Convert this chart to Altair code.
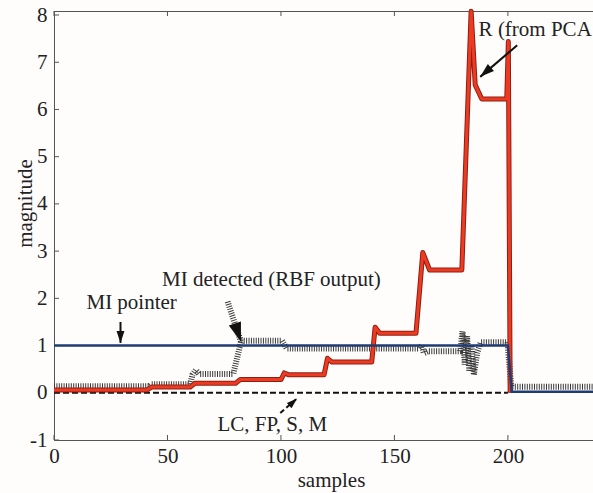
import altair as alt
import pandas as pd

# ---------------- data ----------------
r_x = [0, 41, 43, 60, 62, 80, 82, 100, 101.5, 103.5, 119, 120.5, 122.5, 140, 141.5, 143.5,
       159.5, 162.5, 165.5, 179.7, 183.8, 185.6, 188.5, 199.5, 200.2, 201.0]
r_y = [0.06, 0.06, 0.12, 0.12, 0.2, 0.2, 0.28, 0.28, 0.42, 0.38, 0.38, 0.73, 0.65, 0.65, 1.39, 1.26,
       1.26, 2.97, 2.6, 2.6, 8.08, 6.52, 6.22, 6.22, 7.44, 0.0]

h_x = [0, 42, 43, 60, 61, 62.5, 64, 79, 81, 82.5, 100.5, 102.5, 161, 162, 163, 165, 179, 180,
       181, 182, 183, 184, 185, 186.5, 188, 199.8, 201.5, 237.5]
h_y = [0.14, 0.14, 0.18, 0.18, 0.38, 0.48, 0.4, 0.4, 0.8, 1.1, 1.1, 0.94, 0.94, 1.0, 0.84, 0.88,
       0.88, 1.3, 0.6, 1.2, 0.45, 1.0, 0.38, 0.85, 1.07, 1.07, 0.13, 0.13]

b_x = [0, 200, 201.7, 237.5]
b_y = [1, 1, 0.02, 0.02]

d_x = [0, 200]
d_y = [0, 0]

x_ticks = [0, 50, 100, 150, 200]
y_ticks = [-1, 0, 1, 2, 3, 4, 5, 6, 7, 8]

# annotations (text, left x, baseline y)
ann_text = ["R (from PCA", "MI detected (RBF output)", "MI pointer", "LC, FP, S, M"]
ann_x = [187.1, 47.6, 14.3, 72.0]
ann_y = [7.556, 2.27, 1.775, -0.80]

# arrows: tail -> tip
arr_name = ["R", "MIp", "MId", "LC"]
arr_x0 = [204.1, 29.3, 76.5, 99.7]
arr_y0 = [7.36, 1.50, 1.93, -0.43]
arr_x1 = [187.8, 29.3, 82.4, 107.1]
arr_y1 = [6.69, 1.055, 1.08, -0.12]
arr_angle = [229, 180, 161.5, 48]
arr_size = [800, 576, 1500, 450]

# ---------------- layout ----------------
W, H = 539, 429
FONT = "Liberation Serif"
xs = alt.Scale(domain=[0, 237.5], nice=False, zero=False)
ys = alt.Scale(domain=[-1, 8.085], nice=False, zero=False)

xaxis = alt.Axis(values=x_ticks, title="samples", tickSize=0, labelPadding=5, grid=False,
                 domainColor="#555", labelFont=FONT, labelFontSize=21, labelColor="#222",
                 titleFont=FONT, titleFontSize=21, titleFontWeight="normal", titleColor="#222",
                 titleX=277, titleY=40, titleBaseline="middle", titleAlign="center",
                 labelFlush=False)
yaxis = alt.Axis(values=y_ticks, title="magnitude", tickSize=0, labelPadding=7, grid=False,
                 domainColor="#555", labelFont=FONT, labelFontSize=21, labelColor="#222",
                 titleFont=FONT, titleFontSize=21, titleFontWeight="normal", titleColor="#222",
                 titleX=-29, titleY=192, titleBaseline="middle", titleAlign="center",
                 titleAngle=-90, labelExpr="toString(datum.value)", labelFlush=False)


def X(f):
    return alt.X(f, type="quantitative", scale=xs, axis=xaxis)


def Y(f):
    return alt.Y(f, type="quantitative", scale=ys, axis=yaxis)


red_df = pd.DataFrame({"x": r_x, "y": r_y, "o": range(len(r_x))})
hat_df = pd.DataFrame({"x": h_x, "y": h_y, "o": range(len(h_x))})
blue_df = pd.DataFrame({"x": b_x, "y": b_y, "o": range(len(b_x))})
dash_df = pd.DataFrame({"x": d_x, "y": d_y, "o": range(len(d_x))})

rows = []
for n, x0, y0, x1, y1 in zip(arr_name, arr_x0, arr_y0, arr_x1, arr_y1):
    rows.append({"name": n, "x": x0, "y": y0, "o": 0})
    rows.append({"name": n, "x": x1, "y": y1, "o": 1})
arr_df = pd.DataFrame(rows)
head_df = pd.DataFrame({"name": arr_name, "x": arr_x1, "y": arr_y1,
                        "angle": arr_angle, "size": arr_size})
ann_df = pd.DataFrame({"t": ann_text, "x": ann_x, "y": ann_y})

hatched = alt.Chart(hat_df).mark_line(color="#3a3a3a", strokeWidth=6, strokeDash=[1, 1.4],
                                      strokeCap="butt").encode(x=X("x"), y=Y("y"), order="o:Q")
dashed = alt.Chart(dash_df).mark_line(color="#111", strokeWidth=2, strokeDash=[6, 3]).encode(
    x=X("x"), y=Y("y"), order="o:Q")
red_out = alt.Chart(red_df).mark_line(color="#8a2012", strokeWidth=5, strokeJoin="round").encode(
    x=X("x"), y=Y("y"), order="o:Q")
red = alt.Chart(red_df).mark_line(color="#ee3a22", strokeWidth=3, strokeJoin="round").encode(
    x=X("x"), y=Y("y"), order="o:Q")
blue = alt.Chart(blue_df).mark_line(color="#1d3c74", strokeWidth=2.5).encode(
    x=X("x"), y=Y("y"), order="o:Q")

solid_arr = alt.Chart(arr_df).transform_filter(
    alt.FieldOneOfPredicate(field="name", oneOf=["R", "MIp"])).mark_line(
    color="#111", strokeWidth=2).encode(x=X("x"), y=Y("y"), detail="name:N", order="o:Q")
dash_arr = alt.Chart(arr_df).transform_filter(alt.datum.name == "LC").mark_line(
    color="#111", strokeWidth=2, strokeDash=[5, 3]).encode(x=X("x"), y=Y("y"), order="o:Q")
hat_arr = alt.Chart(arr_df).transform_filter(alt.datum.name == "MId").mark_line(
    color="#3a3a3a", strokeWidth=6, strokeDash=[1, 1.4], strokeCap="butt").encode(
    x=X("x"), y=Y("y"), order="o:Q")
heads = alt.Chart(head_df).mark_point(shape="M0,0L-0.33,1L0.33,1Z", filled=True, color="#111",
                                      opacity=1, strokeWidth=0).encode(
    x=X("x"), y=Y("y"), angle=alt.Angle("angle:Q", scale=None),
    size=alt.Size("size:Q", scale=None))

texts = alt.Chart(ann_df).mark_text(align="left", baseline="alphabetic", font=FONT, fontSize=21,
                                    color="#222").encode(x=X("x"), y=Y("y"), text="t:N")

# frame: top border and inward ticks
xt_df = pd.DataFrame({"x": x_ticks})
yt_df = pd.DataFrame({"y": y_ticks})
top_border = alt.Chart(xt_df).mark_rule(color="#555", strokeWidth=1).encode(
    x=alt.value(0), x2=alt.value(W), y=alt.value(0.5))
top_ticks = alt.Chart(xt_df).mark_rule(color="#555").encode(
    x=X("x"), y=alt.value(0), y2=alt.value(5))
bot_ticks = alt.Chart(xt_df).mark_rule(color="#555").encode(
    x=X("x"), y=alt.value(H), y2=alt.value(H - 5))
left_ticks = alt.Chart(yt_df).mark_rule(color="#555").encode(
    y=Y("y"), x=alt.value(0), x2=alt.value(5))

chart = alt.layer(
    top_border, top_ticks, bot_ticks, left_ticks,
    hatched, dashed, red_out, red, blue,
    solid_arr, dash_arr, hat_arr, heads, texts,
).properties(
    width=W, height=H,
    autosize=alt.AutoSizeParams(type="none"),
    padding={"left": 54, "top": 11, "right": 0, "bottom": 53},
    background="#fffdfc",
).configure_view(stroke=None)

chart.save("out.html", embed_options={"renderer": "svg", "actions": False})
